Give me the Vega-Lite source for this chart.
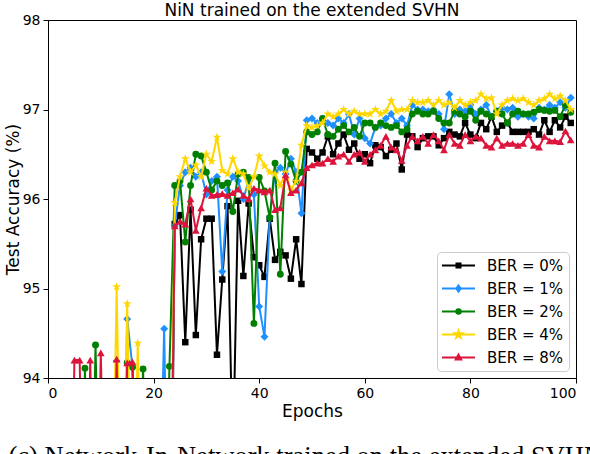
{
"$schema": "https://vega.github.io/schema/vega-lite/v6.json",
"autosize": "none",
"width": 528, "height": 358,
"padding": {"left": 48, "top": 20, "right": 14, "bottom": 76},
"title": {"text": "NiN trained on the extended SVHN", "fontSize": 17, "fontWeight": "normal", "font": "DejaVu Sans", "color": "black", "offset": 0, "dy": 7, "frame": "group"},
"config": {
 "font": "DejaVu Sans",
 "view": {"stroke": "black", "strokeWidth": 1},
 "axis": {"domainColor": "black", "tickColor": "black", "labelColor": "black", "titleColor": "black", "labelFontSize": 14, "titleFontSize": 17, "titleFontWeight": "normal", "tickSize": 5, "labelPadding": 3, "grid": false, "labelFont": "DejaVu Sans", "titleFont": "DejaVu Sans"}
},
"resolve": {"axis": {"x": "independent"}},
"layer": [
 {
 "encoding": {
  "x": {"field": "e", "type": "quantitative", "scale": {"domain": [0, 100], "nice": false}, "axis": {"values": [0, 20, 40, 60, 80, 100], "title": "Epochs", "titlePadding": 3}},
  "y": {"field": "a", "type": "quantitative", "scale": {"domain": [94, 98], "nice": false, "zero": false}, "axis": {"values": [94, 95, 96, 97, 98], "title": "Test Accuracy (%)", "titlePadding": 0}}
 },
 "layer": [
 {
  "data": {"values": [
{"e":1,"a":86.5},{"e":2,"a":88.0},{"e":3,"a":89.2},{"e":4,"a":89.5},{"e":5,"a":90.1},{"e":6,"a":90.0},{"e":7,"a":90.6},{"e":8,"a":90.4},{"e":9,"a":91.0},{"e":10,"a":90.8},
{"e":11,"a":91.2},{"e":12,"a":91.0},{"e":13,"a":91.5},{"e":14,"a":91.3},{"e":15,"a":91.6},{"e":16,"a":91.4},{"e":17,"a":91.8},{"e":18,"a":91.5},{"e":19,"a":91.9},{"e":20,"a":91.7},
{"e":21,"a":91.8},{"e":22,"a":91.2},{"e":23,"a":90.0},{"e":24,"a":95.72},{"e":25,"a":95.82},{"e":26,"a":94.4},{"e":27,"a":95.88},{"e":28,"a":94.48},{"e":29,"a":95.55},{"e":30,"a":95.78},
{"e":31,"a":95.78},{"e":32,"a":94.26},{"e":33,"a":95.1},{"e":34,"a":95.92},{"e":35,"a":93.0},{"e":36,"a":95.98},{"e":37,"a":95.14},{"e":38,"a":95.95},{"e":39,"a":95.35},{"e":40,"a":95.26},
{"e":41,"a":95.13},{"e":42,"a":95.78},{"e":43,"a":95.32},{"e":44,"a":95.41},{"e":45,"a":95.37},{"e":46,"a":95.11},{"e":47,"a":95.55},{"e":48,"a":95.05},{"e":49,"a":96.56},{"e":50,"a":96.52},
{"e":51,"a":96.45},{"e":52,"a":96.52},{"e":53,"a":96.7},{"e":54,"a":96.5},{"e":55,"a":96.62},{"e":56,"a":96.72},{"e":57,"a":96.55},{"e":58,"a":96.62},{"e":59,"a":96.45},{"e":60,"a":96.5},
{"e":61,"a":96.4},{"e":62,"a":96.6},{"e":63,"a":96.58},{"e":64,"a":96.48},{"e":65,"a":96.55},{"e":66,"a":96.62},{"e":67,"a":96.33},{"e":68,"a":96.72},{"e":69,"a":96.7},{"e":70,"a":96.58},
{"e":71,"a":96.68},{"e":72,"a":96.7},{"e":73,"a":96.7},{"e":74,"a":96.6},{"e":75,"a":96.68},{"e":76,"a":96.75},{"e":77,"a":96.72},{"e":78,"a":96.7},{"e":79,"a":96.85},{"e":80,"a":96.72},
{"e":81,"a":96.68},{"e":82,"a":96.85},{"e":83,"a":96.78},{"e":84,"a":96.92},{"e":85,"a":96.75},{"e":86,"a":96.82},{"e":87,"a":96.85},{"e":88,"a":96.75},{"e":89,"a":96.75},{"e":90,"a":96.75},
{"e":91,"a":96.75},{"e":92,"a":96.78},{"e":93,"a":96.72},{"e":94,"a":96.88},{"e":95,"a":96.75},{"e":96,"a":96.88},{"e":97,"a":96.8},{"e":98,"a":96.92},{"e":99,"a":96.85}
  ]},
  "encoding": {"color": {"datum": "BER = 0%", "type": "nominal",
   "scale": {"domain": ["BER = 0%", "BER = 1%", "BER = 2%", "BER = 4%", "BER = 8%"], "range": ["#000000", "#1e90ff", "#008000", "#ffd700", "#dc143c"]},
   "legend": {"title": null, "orient": "bottom-right", "offset": 7, "padding": 5, "symbolOffset": 8, "labelOffset": 20, "rowPadding": 6, "labelFontSize": 15, "labelFont": "DejaVu Sans", "labelColor": "black", "strokeColor": "#cccccc", "fillColor": "rgba(255,255,255,0.8)", "cornerRadius": 4, "symbolSize": 225,
    "encode": {"symbols": {"update": {
     "shape": {"signal": "datum.value === 'BER = 0%' ? 'M-2.2,0H2.2M-0.27,-0.27H0.27V0.27H-0.27Z' : datum.value === 'BER = 1%' ? 'M-2.2,0H2.2M0,-0.4L0.3,0L0,0.4L-0.3,0Z' : datum.value === 'BER = 2%' ? 'M-2.2,0H2.2M0.3,0A0.3,0.3 0 1,1 -0.3,0A0.3,0.3 0 1,1 0.3,0Z' : datum.value === 'BER = 4%' ? 'M-2.2,0H2.2M0,-0.5L0.112,-0.154L0.476,-0.155L0.181,0.059L0.294,0.405L0,0.19L-0.294,0.405L-0.181,0.059L-0.476,-0.155L-0.112,-0.154Z' : 'M-2.2,0H2.2M0,-0.38L0.36,0.26L-0.36,0.26Z'"},
     "fill": {"scale": "color", "field": "value"},
     "stroke": {"scale": "color", "field": "value"},
     "strokeWidth": {"value": 2},
     "opacity": {"value": 1},
     "size": {"value": 225}}}}}}},
  "layer": [
   {"mark": {"type": "line", "clip": true, "strokeWidth": 2, "strokeJoin": "round"}},
   {"mark": {"type": "point", "filled": true, "clip": true, "opacity": 1, "shape": "square", "size": 42}}
  ]
 },
 {
  "data": {"values": [
{"e":1,"a":87.0},{"e":2,"a":88.5},{"e":3,"a":89.5},{"e":4,"a":90.0},{"e":5,"a":90.5},{"e":6,"a":90.8},{"e":7,"a":91.0},{"e":8,"a":91.3},{"e":9,"a":91.1},{"e":10,"a":91.6},
{"e":11,"a":91.4},{"e":12,"a":91.8},{"e":13,"a":94.19},{"e":14,"a":91.5},{"e":15,"a":94.66},{"e":16,"a":94.12},{"e":17,"a":91.8},{"e":18,"a":91.6},{"e":19,"a":92.0},{"e":20,"a":91.7},
{"e":21,"a":92.0},{"e":22,"a":94.55},{"e":23,"a":91.0},{"e":24,"a":95.7},{"e":25,"a":96.15},{"e":26,"a":96.3},{"e":27,"a":96.35},{"e":28,"a":96.25},{"e":29,"a":96.3},{"e":30,"a":96.05},
{"e":31,"a":96.2},{"e":32,"a":96.25},{"e":33,"a":95.19},{"e":34,"a":96.1},{"e":35,"a":96.25},{"e":36,"a":96.2},{"e":37,"a":96.0},{"e":38,"a":96.2},{"e":39,"a":96.05},{"e":40,"a":94.8},
{"e":41,"a":94.46},{"e":42,"a":95.8},{"e":43,"a":96.3},{"e":44,"a":96.35},{"e":45,"a":96.28},{"e":46,"a":96.45},{"e":47,"a":96.3},{"e":48,"a":95.84},{"e":49,"a":96.88},{"e":50,"a":96.9},
{"e":51,"a":96.85},{"e":52,"a":96.9},{"e":53,"a":96.85},{"e":54,"a":96.82},{"e":55,"a":96.9},{"e":56,"a":96.85},{"e":57,"a":96.95},{"e":58,"a":96.72},{"e":59,"a":96.9},{"e":60,"a":96.68},
{"e":61,"a":96.62},{"e":62,"a":96.8},{"e":63,"a":96.82},{"e":64,"a":96.9},{"e":65,"a":96.95},{"e":66,"a":96.85},{"e":67,"a":96.9},{"e":68,"a":96.82},{"e":69,"a":97.05},{"e":70,"a":97.0},
{"e":71,"a":97.0},{"e":72,"a":96.98},{"e":73,"a":97.0},{"e":74,"a":96.95},{"e":75,"a":96.78},{"e":76,"a":97.17},{"e":77,"a":96.95},{"e":78,"a":97.0},{"e":79,"a":96.98},{"e":80,"a":97.05},
{"e":81,"a":96.95},{"e":82,"a":97.0},{"e":83,"a":97.05},{"e":84,"a":96.92},{"e":85,"a":96.98},{"e":86,"a":97.02},{"e":87,"a":97.0},{"e":88,"a":97.02},{"e":89,"a":96.92},{"e":90,"a":96.95},
{"e":91,"a":96.92},{"e":92,"a":96.9},{"e":93,"a":97.02},{"e":94,"a":97.0},{"e":95,"a":97.05},{"e":96,"a":97.02},{"e":97,"a":97.08},{"e":98,"a":97.02},{"e":99,"a":97.13}
  ]},
  "encoding": {"color": {"datum": "BER = 1%", "type": "nominal"}},
  "layer": [
   {"mark": {"type": "line", "clip": true, "strokeWidth": 2, "strokeJoin": "round"}},
   {"mark": {"type": "point", "filled": true, "clip": true, "opacity": 1, "shape": "diamond", "size": 64}}
  ]
 },
 {
  "data": {"values": [
{"e":1,"a":86.0},{"e":2,"a":88.0},{"e":3,"a":89.0},{"e":4,"a":90.0},{"e":5,"a":90.5},{"e":6,"a":91.0},{"e":7,"a":94.11},{"e":8,"a":91.2},{"e":9,"a":94.37},{"e":10,"a":91.5},
{"e":11,"a":91.3},{"e":12,"a":91.7},{"e":13,"a":91.6},{"e":14,"a":91.9},{"e":15,"a":94.17},{"e":16,"a":94.12},{"e":17,"a":91.8},{"e":18,"a":94.1},{"e":19,"a":91.9},{"e":20,"a":91.7},
{"e":21,"a":92.0},{"e":22,"a":91.5},{"e":23,"a":94.13},{"e":24,"a":96.15},{"e":25,"a":96.2},{"e":26,"a":95.52},{"e":27,"a":96.15},{"e":28,"a":96.5},{"e":29,"a":96.48},{"e":30,"a":96.3},
{"e":31,"a":96.1},{"e":32,"a":96.2},{"e":33,"a":96.15},{"e":34,"a":96.18},{"e":35,"a":95.86},{"e":36,"a":96.28},{"e":37,"a":96.3},{"e":38,"a":96.24},{"e":39,"a":94.61},{"e":40,"a":96.24},
{"e":41,"a":96.09},{"e":42,"a":95.79},{"e":43,"a":96.4},{"e":44,"a":95.16},{"e":45,"a":96.53},{"e":46,"a":96.39},{"e":47,"a":96.2},{"e":48,"a":96.3},{"e":49,"a":96.75},{"e":50,"a":96.72},
{"e":51,"a":96.75},{"e":52,"a":96.9},{"e":53,"a":96.72},{"e":54,"a":96.7},{"e":55,"a":96.78},{"e":56,"a":96.82},{"e":57,"a":96.75},{"e":58,"a":96.8},{"e":59,"a":96.7},{"e":60,"a":96.85},
{"e":61,"a":96.85},{"e":62,"a":96.8},{"e":63,"a":96.85},{"e":64,"a":96.82},{"e":65,"a":96.8},{"e":66,"a":96.82},{"e":67,"a":96.75},{"e":68,"a":96.78},{"e":69,"a":96.95},{"e":70,"a":96.98},
{"e":71,"a":96.95},{"e":72,"a":96.95},{"e":73,"a":96.98},{"e":74,"a":96.9},{"e":75,"a":96.85},{"e":76,"a":96.85},{"e":77,"a":96.98},{"e":78,"a":96.95},{"e":79,"a":96.92},{"e":80,"a":96.98},
{"e":81,"a":96.88},{"e":82,"a":96.98},{"e":83,"a":96.95},{"e":84,"a":96.92},{"e":85,"a":96.98},{"e":86,"a":96.95},{"e":87,"a":96.85},{"e":88,"a":96.95},{"e":89,"a":96.98},{"e":90,"a":96.95},
{"e":91,"a":96.95},{"e":92,"a":96.97},{"e":93,"a":97.0},{"e":94,"a":96.99},{"e":95,"a":96.98},{"e":96,"a":96.99},{"e":97,"a":96.92},{"e":98,"a":97.05},{"e":99,"a":96.97}
  ]},
  "encoding": {"color": {"datum": "BER = 2%", "type": "nominal"}},
  "layer": [
   {"mark": {"type": "line", "clip": true, "strokeWidth": 2, "strokeJoin": "round"}},
   {"mark": {"type": "point", "filled": true, "clip": true, "opacity": 1, "shape": "circle", "size": 48}}
  ]
 },
 {
  "data": {"values": [
{"e":1,"a":85.5},{"e":2,"a":87.5},{"e":3,"a":89.0},{"e":4,"a":89.8},{"e":5,"a":90.2},{"e":6,"a":90.6},{"e":7,"a":91.0},{"e":8,"a":91.2},{"e":9,"a":91.4},{"e":10,"a":91.3},
{"e":11,"a":91.7},{"e":12,"a":91.5},{"e":13,"a":95.02},{"e":14,"a":91.6},{"e":15,"a":94.83},{"e":16,"a":91.8},{"e":17,"a":94.39},{"e":18,"a":91.7},{"e":19,"a":92.0},{"e":20,"a":91.8},
{"e":21,"a":92.1},{"e":22,"a":91.6},{"e":23,"a":91.2},{"e":24,"a":95.96},{"e":25,"a":96.25},{"e":26,"a":96.45},{"e":27,"a":96.3},{"e":28,"a":96.38},{"e":29,"a":96.25},{"e":30,"a":96.5},
{"e":31,"a":96.42},{"e":32,"a":96.69},{"e":33,"a":96.32},{"e":34,"a":96.28},{"e":35,"a":96.45},{"e":36,"a":96.3},{"e":37,"a":96.28},{"e":38,"a":96.12},{"e":39,"a":96.25},{"e":40,"a":96.48},
{"e":41,"a":96.37},{"e":42,"a":96.3},{"e":43,"a":96.28},{"e":44,"a":96.15},{"e":45,"a":96.3},{"e":46,"a":96.1},{"e":47,"a":96.2},{"e":48,"a":96.6},{"e":49,"a":96.82},{"e":50,"a":96.8},
{"e":51,"a":96.82},{"e":52,"a":96.85},{"e":53,"a":96.95},{"e":54,"a":96.92},{"e":55,"a":96.95},{"e":56,"a":97.0},{"e":57,"a":96.95},{"e":58,"a":96.98},{"e":59,"a":96.95},{"e":60,"a":96.95},
{"e":61,"a":96.95},{"e":62,"a":97.0},{"e":63,"a":96.95},{"e":64,"a":96.98},{"e":65,"a":97.1},{"e":66,"a":96.98},{"e":67,"a":97.0},{"e":68,"a":97.0},{"e":69,"a":97.1},{"e":70,"a":97.08},
{"e":71,"a":97.08},{"e":72,"a":97.1},{"e":73,"a":97.05},{"e":74,"a":97.1},{"e":75,"a":97.05},{"e":76,"a":97.08},{"e":77,"a":97.02},{"e":78,"a":97.1},{"e":79,"a":97.05},{"e":80,"a":97.08},
{"e":81,"a":97.1},{"e":82,"a":97.17},{"e":83,"a":97.12},{"e":84,"a":97.13},{"e":85,"a":96.95},{"e":86,"a":97.05},{"e":87,"a":97.1},{"e":88,"a":97.12},{"e":89,"a":97.1},{"e":90,"a":97.12},
{"e":91,"a":97.08},{"e":92,"a":97.05},{"e":93,"a":97.1},{"e":94,"a":97.12},{"e":95,"a":97.17},{"e":96,"a":97.12},{"e":97,"a":97.15},{"e":98,"a":97.1},{"e":99,"a":97.0}
  ]},
  "encoding": {"color": {"datum": "BER = 4%", "type": "nominal"}},
  "layer": [
   {"mark": {"type": "line", "clip": true, "strokeWidth": 2, "strokeJoin": "round"}},
   {"mark": {"type": "point", "filled": true, "clip": true, "opacity": 1, "shape": "M0,-1L0.2233,-0.3074L0.9511,-0.309L0.3614,0.1174L0.5878,0.809L0,0.38L-0.5878,0.809L-0.3614,0.1174L-0.9511,-0.309L-0.2233,-0.3074Z", "size": 90}}
  ]
 },
 {
  "data": {"values": [
{"e":1,"a":87.0},{"e":2,"a":88.6},{"e":3,"a":89.6},{"e":4,"a":90.3},{"e":5,"a":94.2},{"e":6,"a":94.2},{"e":7,"a":90.8},{"e":8,"a":94.2},{"e":9,"a":91.2},{"e":10,"a":94.28},
{"e":11,"a":91.4},{"e":12,"a":91.3},{"e":13,"a":94.21},{"e":14,"a":91.6},{"e":15,"a":94.17},{"e":16,"a":94.18},{"e":17,"a":91.7},{"e":18,"a":91.9},{"e":19,"a":91.8},{"e":20,"a":92.0},
{"e":21,"a":91.9},{"e":22,"a":91.7},{"e":23,"a":91.0},{"e":24,"a":95.7},{"e":25,"a":95.75},{"e":26,"a":95.72},{"e":27,"a":96.0},{"e":28,"a":95.65},{"e":29,"a":95.9},{"e":30,"a":96.12},
{"e":31,"a":96.04},{"e":32,"a":96.05},{"e":33,"a":96.06},{"e":34,"a":96.04},{"e":35,"a":96.07},{"e":36,"a":96.11},{"e":37,"a":96.04},{"e":38,"a":96.0},{"e":39,"a":96.12},{"e":40,"a":96.1},
{"e":41,"a":96.08},{"e":42,"a":96.1},{"e":43,"a":95.88},{"e":44,"a":95.9},{"e":45,"a":96.27},{"e":46,"a":96.07},{"e":47,"a":96.1},{"e":48,"a":96.18},{"e":49,"a":96.35},{"e":50,"a":96.38},
{"e":51,"a":96.4},{"e":52,"a":96.4},{"e":53,"a":96.45},{"e":54,"a":96.42},{"e":55,"a":96.48},{"e":56,"a":96.5},{"e":57,"a":96.42},{"e":58,"a":96.5},{"e":59,"a":96.52},{"e":60,"a":96.42},
{"e":61,"a":96.5},{"e":62,"a":96.55},{"e":63,"a":96.6},{"e":64,"a":96.7},{"e":65,"a":96.58},{"e":66,"a":96.55},{"e":67,"a":96.43},{"e":68,"a":96.6},{"e":69,"a":96.7},{"e":70,"a":96.65},
{"e":71,"a":96.7},{"e":72,"a":96.62},{"e":73,"a":96.72},{"e":74,"a":96.65},{"e":75,"a":96.55},{"e":76,"a":96.72},{"e":77,"a":96.62},{"e":78,"a":96.6},{"e":79,"a":96.72},{"e":80,"a":96.65},
{"e":81,"a":96.7},{"e":82,"a":96.68},{"e":83,"a":96.6},{"e":84,"a":96.58},{"e":85,"a":96.68},{"e":86,"a":96.6},{"e":87,"a":96.62},{"e":88,"a":96.62},{"e":89,"a":96.6},{"e":90,"a":96.62},
{"e":91,"a":96.72},{"e":92,"a":96.6},{"e":93,"a":96.58},{"e":94,"a":96.7},{"e":95,"a":96.65},{"e":96,"a":96.65},{"e":97,"a":96.64},{"e":98,"a":96.76},{"e":99,"a":96.66}
  ]},
  "encoding": {"color": {"datum": "BER = 8%", "type": "nominal"}},
  "layer": [
   {"mark": {"type": "line", "clip": true, "strokeWidth": 2, "strokeJoin": "round"}},
   {"mark": {"type": "point", "filled": true, "clip": true, "opacity": 1, "shape": "triangle-up", "size": 60}}
  ]
 }
 ]
 },
 {
  "data": {"values": [{"e": 0}]},
  "mark": {"type": "rule", "opacity": 0},
  "encoding": {"x": {"field": "e", "type": "quantitative", "axis": {"orient": "bottom", "labels": false, "ticks": false, "domain": false, "grid": false, "title": "(c) Network-In-Network trained on the extended SVHN", "titleFont": "Liberation Serif", "titleFontSize": 26.5, "titleFontWeight": "normal", "titleAnchor": "start", "titleAlign": "left", "titleBaseline": "alphabetic", "titleX": -40, "titleY": 86}}}
 }
]
}
